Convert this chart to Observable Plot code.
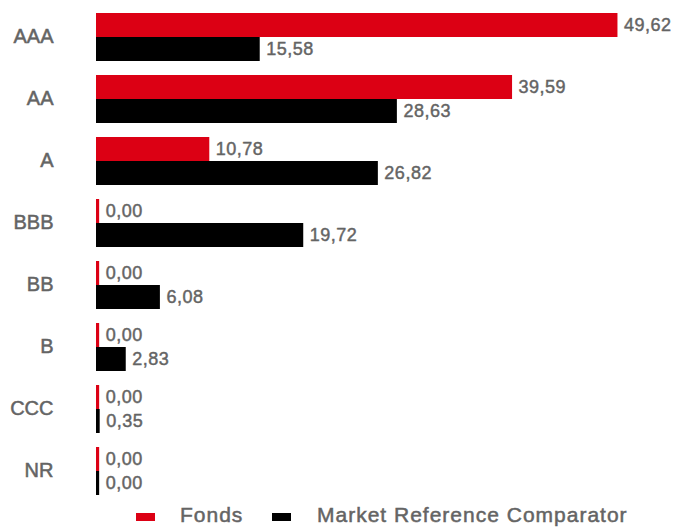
<!DOCTYPE html>
<html><head><meta charset="utf-8">
<script src="https://cdn.jsdelivr.net/npm/d3@7"></script>
<script src="https://cdn.jsdelivr.net/npm/@observablehq/plot@0.6"></script>
<style>
body{margin:0;background:#fff;font-family:"Liberation Sans",Arial,sans-serif;}
#chart{width:674px;}
.legend{position:relative;height:28px;width:674px;}
.sw{position:absolute;width:19px;height:8px;top:13px;}
.lt{position:absolute;top:4px;line-height:1;font-size:21px;letter-spacing:1px;color:#646464;white-space:nowrap;-webkit-text-stroke:0.5px #646464;}
</style></head>
<body>
<div id="chart"></div>
<script>
const categories = ["AAA","AA","A","BBB","BB","B","CCC","NR"];
const fonds = [49.62,39.59,10.78,0,0,0,0,0];
const mrc = [15.58,28.63,26.82,19.72,6.08,2.83,0.35,0];
const seriesNames = ["Fonds","Market Reference Comparator"];
const colors = ["#dc0014","#000000"];

const data = categories.flatMap((c,i)=>[
  {cat:c, series:seriesNames[0], value:fonds[i]},
  {cat:c, series:seriesNames[1], value:mrc[i]}
]);
const fmt = v => v.toFixed(2).replace(".", ",");

const plot = Plot.plot({
  width:674, height:500,
  marginTop:12, marginBottom:5, marginLeft:96, marginRight:0,
  style:{fontFamily:"'Liberation Sans', Arial, sans-serif", color:"#646464"},
  x:{domain:[0,55], axis:null},
  y:{domain:seriesNames, padding:0, axis:null},
  fy:{domain:categories, paddingInner:0.21, paddingOuter:0, label:null},
  color:{domain:seriesNames, range:colors},
  marks:[
    Plot.barX(data,{fy:"cat", y:"series", x:d=>Math.max(d.value,0.3), fill:"series"}),
    Plot.text(data,{fy:"cat", y:"series", x:d=>Math.max(d.value,0.3), text:d=>fmt(d.value),
      textAnchor:"start", dx:6, fill:"#646464", stroke:"#646464", strokeWidth:0.45, fontSize:18}),
    Plot.axisFy({anchor:"left", tickSize:0, tickPadding:43, fontSize:20, fill:"#646464", label:null})
  ]
});
document.getElementById("chart").appendChild(plot);
plot.querySelectorAll("g[aria-label='text'] text").forEach(t => { t.style.letterSpacing = "0.5px"; });
plot.querySelectorAll("g[aria-label='fy-axis tick label'] text").forEach(t => {
  t.setAttribute("stroke", "#646464");
  t.setAttribute("stroke-width", "0.5");
});

const legend = document.createElement("div");
legend.className = "legend";
const swLefts = [136, 272];
const txtLefts = [180, 317];
seriesNames.forEach((s,i)=>{
  const sw = document.createElement("span");
  sw.className = "sw";
  sw.style.left = swLefts[i] + "px";
  sw.style.background = colors[i];
  legend.appendChild(sw);
  const t = document.createElement("span");
  t.className = "lt";
  t.style.left = txtLefts[i] + "px";
  t.textContent = s;
  legend.appendChild(t);
});
document.body.appendChild(legend);
</script>
</body></html>
